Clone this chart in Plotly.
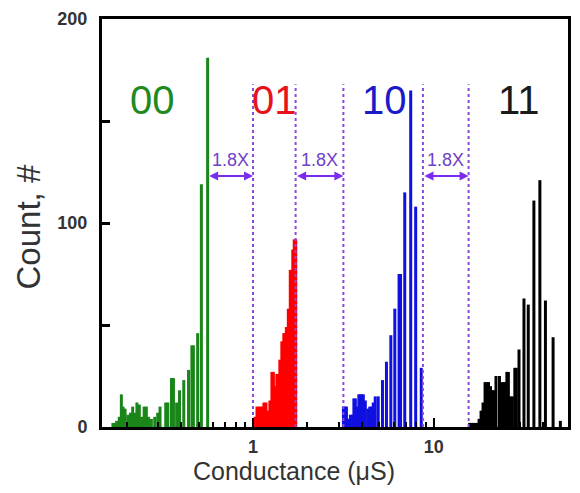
import numpy as np
import plotly.graph_objects as go

# ---------------- data (conductance in uS, counts) ----------------
g00_cond = [0.168, 0.172, 0.176, 0.182, 0.187, 0.191, 0.196, 0.203, 0.210, 0.216,
            0.222, 0.228, 0.235, 0.242, 0.250, 0.257, 0.264, 0.274, 0.286, 0.297,
            0.306, 0.329, 0.338, 0.354, 0.363, 0.378, 0.392, 0.414, 0.440, 0.459,
            0.468, 0.494, 0.518, 0.561]
g00_count = [2, 2, 3, 5, 16, 10, 9, 6, 7, 10,
             7, 12, 11, 5, 10, 10, 5, 4, 5, 7,
             10, 12, 12, 24, 24, 12, 18, 23, 28, 40,
             40, 46, 119, 181]

g01_cond = [1.026, 1.052, 1.079, 1.107, 1.128, 1.149, 1.179, 1.209, 1.240, 1.272,
            1.296, 1.321, 1.355, 1.381, 1.407, 1.443, 1.480, 1.499, 1.528, 1.567,
            1.607, 1.627, 1.659, 1.690, 1.723]
g01_count = [5, 10, 10, 10, 10, 12, 12, 8, 13, 27,
             27, 20, 26, 26, 33, 42, 46, 46, 49, 58,
             77, 77, 87, 92, 92]

g10_cond = [3.162, 3.223, 3.285, 3.369, 3.455, 3.544, 3.612, 3.680, 3.751, 3.847,
            3.921, 3.996, 4.073, 4.177, 4.311, 4.422, 4.535, 4.622, 4.740, 4.923,
            5.198, 5.468, 5.782, 6.082, 6.421, 6.543, 6.902, 7.447, 7.934, 8.517]
g10_count = [10, 10, 10, 4, 6, 6, 14, 14, 10, 16,
             16, 16, 16, 13, 9, 10, 10, 12, 15, 15,
             23, 32, 45, 58, 75, 75, 115, 165, 108, 29]

g11_cond = [15.77, 16.17, 16.59, 17.01, 17.45, 17.78, 18.24, 18.71, 19.19, 19.68,
            20.06, 20.57, 21.10, 21.50, 22.05, 23.05, 23.64, 24.25, 24.87, 25.34,
            25.83, 26.49, 27.17, 28.04, 28.58, 29.57, 31.50, 33.27, 35.74, 38.57,
            41.40, 45.64, 50.06]
g11_count = [2, 2, 2, 2, 2, 4, 8, 12, 22, 22,
             22, 20, 18, 18, 25, 25, 22, 22, 22, 27,
             27, 15, 15, 29, 29, 38, 63, 60, 111, 121,
             62, 44, 3]

state_labels = ["00", "01", "10", "11"]
state_colors = ["#1a861a", "#ff0000", "#1010e0", "#000000"]
label_colors = ["#1f8a1f", "#e8121c", "#1a1ac8", "#1a1a1a"]

# boundaries of the read windows (uS) and the window spacing arrows
boundary_cond = [1.0, 1.72, 3.16, 8.70, 15.57]
boundary_top = 168
arrow_pairs = [(0.561, 1.0), (1.72, 3.16), (8.70, 15.57)]
arrow_count = 123
ratio_text = "1.8X"

x_tickvals = [1, 10]
x_ticktext = ["1", "10"]
x_minor = [0.2, 0.3, 0.4, 0.5, 0.6, 0.7, 0.8, 0.9,
           2, 3, 4, 5, 6, 7, 8, 9, 20, 30, 40, 50]
y_tickvals = [0, 100, 200]
y_ticktext = ["0", "100", "200"]
y_minor = [50, 150]

# ---------------- figure ----------------
FONT = "Liberation Sans, Arial, sans-serif"
fig = go.Figure()


def stems(xs, ys):
    sx, sy = [], []
    for x, y in zip(xs, ys):
        sx += [x, x, None]
        sy += [0, y, None]
    return sx, sy


for cond, cnt, col in zip([g00_cond, g01_cond, g10_cond, g11_cond],
                          [g00_count, g01_count, g10_count, g11_count],
                          state_colors):
    sx, sy = stems(cond, cnt)
    fig.add_trace(go.Scatter(x=sx, y=sy, mode="lines",
                             line=dict(color=col, width=3),
                             showlegend=False, hoverinfo="skip"))

# dashed window boundaries
bx, by = [], []
for b in boundary_cond:
    bx += [b, b, None]
    by += [0, boundary_top, None]
fig.add_trace(go.Scatter(x=bx, y=by, mode="lines",
                         line=dict(color="#8a4ad8", width=2, dash="dot"),
                         showlegend=False, hoverinfo="skip"))

annotations = []
for a, b in arrow_pairs:
    annotations.append(dict(x=np.log10(b), y=arrow_count, ax=np.log10(a), ay=arrow_count,
                            xref="x", yref="y", axref="x", ayref="y", text="",
                            showarrow=True, arrowside="end+start", arrowhead=2,
                            startarrowhead=2, arrowsize=0.9, startarrowsize=0.9,
                            arrowwidth=2, arrowcolor="#7a2cf0", standoff=0, startstandoff=0))
    annotations.append(dict(x=(np.log10(a) + np.log10(b)) / 2, y=arrow_count + 8,
                            xref="x", yref="y", text=ratio_text, showarrow=False,
                            font=dict(family=FONT, size=18, color="#7040c8")))

# plot area (page px): x 102..571, y 19..427
PW, PH = 469.0, 408.0
label_px = [153, 276, 386, 522]
for lab, col, px in zip(state_labels, label_colors, label_px):
    annotations.append(dict(x=(px - 102) / PW, y=(427 - 100) / PH,
                            xref="paper", yref="paper", text=lab,
                            showarrow=False, xanchor="center", yanchor="middle",
                            font=dict(family=FONT, size=40, color=col)))

annotations.append(dict(x=(295 - 102) / PW, y=(427 - 471) / PH, xref="paper", yref="paper",
                        text="Conductance (\u03bcS)", showarrow=False,
                        xanchor="center", yanchor="middle",
                        font=dict(family=FONT, size=25, color="#333333")))
annotations.append(dict(x=(28 - 102) / PW, y=(427 - 227) / PH, xref="paper", yref="paper",
                        text="Count, #", showarrow=False, textangle=-90,
                        xanchor="center", yanchor="middle",
                        font=dict(family=FONT, size=33, color="#333333")))

# the page body adds an 8 px margin; keep the figure inside the window
fig.update_layout(
    width=564, height=477,
    margin=dict(l=94, r=1, t=11, b=58),
    paper_bgcolor="white", plot_bgcolor="white",
    showlegend=False,
    annotations=annotations,
    xaxis=dict(type="log", range=[-0.8352, 1.7418],
               tickvals=x_tickvals, ticktext=x_ticktext,
               ticks="inside", ticklen=9, tickwidth=2, tickcolor="black",
               minor=dict(tickvals=x_minor, ticks="inside", ticklen=5,
                          tickwidth=2, tickcolor="black"),
               showline=True, linewidth=3, linecolor="black", mirror=True,
               showgrid=False, zeroline=False, ticklabelstandoff=1,
               tickfont=dict(family=FONT, size=18, color="#333333", weight="bold")),
    yaxis=dict(range=[0, 200],
               tickvals=y_tickvals, ticktext=y_ticktext,
               ticks="inside", ticklen=8, tickwidth=2.5, tickcolor="black",
               minor=dict(tickvals=y_minor, ticks="inside", ticklen=8,
                          tickwidth=2.5, tickcolor="black"),
               showline=True, linewidth=3, linecolor="black", mirror=True,
               showgrid=False, zeroline=False, ticklabelstandoff=8,
               tickfont=dict(family=FONT, size=18, color="#333333", weight="bold")),
)

fig.write_html("out.html")
